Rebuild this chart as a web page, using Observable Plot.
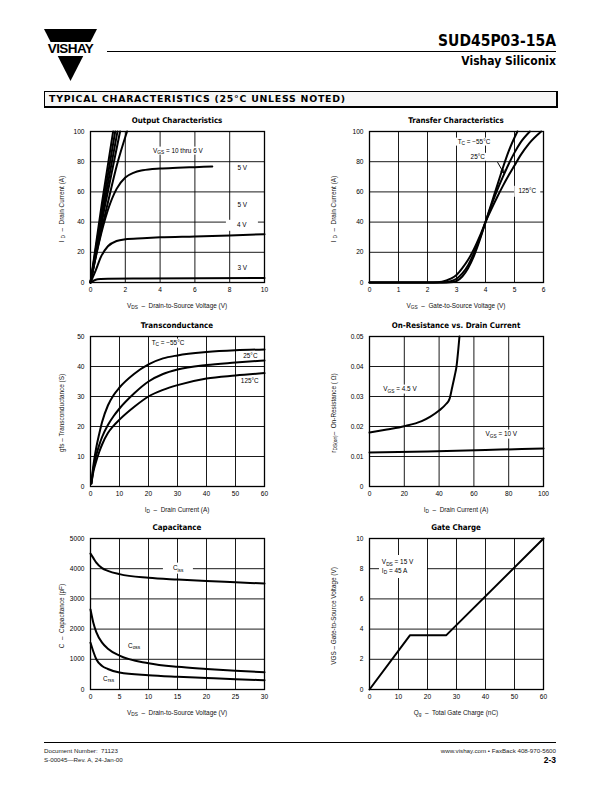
<!DOCTYPE html>
<html><head><meta charset="utf-8">
<script src="https://cdn.jsdelivr.net/npm/d3@7"></script>
<script src="https://cdn.jsdelivr.net/npm/@observablehq/plot@0.6"></script>
<style>
body{margin:0;background:#fff;}
#page{position:relative;width:612px;height:792px;overflow:hidden;font-family:"Liberation Sans",Arial,sans-serif;color:#000;background:#fff;}
.abs{position:absolute;white-space:nowrap;line-height:1;}
.narrow{font-family:"Liberation Sans Narrow","DejaVu Sans Condensed","Liberation Sans",sans-serif;}
.ctitle{font-weight:bold;font-size:7.9px;transform:translate(-50%,-50%);}
.xlab{font-size:6.4px;transform:translate(-50%,-50%);color:#111;}
.ylab{font-size:6.4px;transform:translate(-50%,-50%) rotate(-90deg);color:#111;}
.ann{font-size:6.4px;background:#fff;transform:translate(-50%,-50%);padding:1px 2px;text-align:center;}
sub{font-size:0.75em;vertical-align:baseline;position:relative;top:0.3em;}
</style></head>
<body><div id="page"></div>
<script>
// ---------- data ----------
// Output characteristics: [VDS (V), ID (A)]
const outVgs10 = [[0,0],[0.65,52],[1.3,100]];
const outVgs9  = [[0,0],[0.7,51],[1.42,100]];
const outVgs8  = [[0,0],[0.75,50],[1.55,100]];
const outVgs7  = [[0,0],[0.8,49],[1.7,100]];
const outVgs6  = [[0,0],[0.5,28],[1,53],[1.5,77],[2.1,100]];
const outVgs5  = [[0,0],[0.5,27],[1,48],[1.5,62],[2,69.5],[2.5,72.8],[3,74.3],[4,75.5],[5,76],[6,76.4],[7,76.8]];
const outVgs4  = [[0,0],[0.3,8],[0.6,17],[1,24],[1.5,27.5],[2,28.6],[3,29.3],[4,29.9],[6,30.5],[8,31.2],[10,32]];
const outVgs3  = [[0,0],[0.3,1.8],[0.6,2.3],[1,2.5],[3,2.7],[10,3]];
const outXTicks = [0,2,4,6,8,10];
const outYTicks = [0,20,40,60,80,100];

// Transfer characteristics: [VGS (V), ID (A)]
const trM55 = [[0,0],[2.7,0],[2.9,0.3],[3.0,1],[3.2,4],[3.4,9.5],[3.6,17.5],[3.8,28],[4.0,40],[4.2,52],[4.4,64],[4.6,76],[4.8,87],[5.1,100]];
const tr25  = [[0,0],[2.5,0],[2.8,0.8],[3.0,2.5],[3.2,6],[3.4,11.5],[3.6,19.5],[3.8,29],[4.0,40],[4.2,51],[4.4,61],[4.6,70],[4.8,78.5],[5.0,86],[5.2,92.5],[5.53,100]];
const tr125 = [[0,0],[2.2,0],[2.5,0.5],[2.8,2.5],[3.0,5],[3.2,9.5],[3.4,15],[3.6,22],[3.8,30.5],[4.0,40],[4.2,48.5],[4.4,56.5],[4.6,64],[4.8,71],[5.0,77.5],[5.2,84],[5.5,92],[5.92,100]];
const trXTicks = [0,1,2,3,4,5,6];
const trYTicks = [0,20,40,60,80,100];
const trArrow = [{x1:4.42, y1:79.5, x2:4.63, y2:72.5}];

// Transconductance: [ID (A), gfs (S)]
const gfsM55 = [[0.3,1],[1,7],[2,13],[3,17.5],[4,21.5],[6,27],[8,30.5],[10,33],[15,37.5],[20,40.7],[25,42.7],[30,43.7],[40,44.8],[50,45.4],[60,45.7]];
const gfs25  = [[0.3,1],[1,6],[2,10.5],[3,13.8],[4,16.5],[6,20.5],[8,23.5],[10,26],[15,31],[20,35],[25,37.5],[30,39],[40,40.5],[50,41.3],[60,42]];
const gfs125 = [[0.3,1],[1,5],[2,8.5],[3,11.5],[4,14],[6,17.8],[8,20.3],[10,22.3],[15,26.5],[20,30],[25,32.2],[30,33.8],[40,36],[50,37],[60,37.8]];
const gfsXTicks = [0,10,20,30,40,50,60];
const gfsYTicks = [0,10,20,30,40,50];

// On-resistance: [ID (A), rDS(on) (ohm)]
const ron45 = [[0,0.018],[10,0.019],[20,0.0201],[30,0.0218],[35,0.0233],[40,0.0253],[44,0.0275],[46,0.0292],[47.5,0.033],[49,0.037],[50,0.040],[51,0.0455],[51.7,0.05]];
const ron10 = [[0,0.0113],[25,0.0116],[50,0.0119],[75,0.0123],[100,0.0127]];
const ronXTicks = [0,20,40,60,80,100];
const ronYTicks = [0,0.01,0.02,0.03,0.04,0.05];

// Capacitance: [VDS (V), C (pF)]
const capCiss = [[0,4500],[0.5,4350],[1,4200],[2,4020],[3,3930],[5,3820],[10,3700],[15,3640],[20,3590],[25,3550],[30,3510]];
const capCoss = [[0,2650],[0.5,2200],[1,1900],[2,1550],[3,1350],[5,1120],[10,870],[15,750],[20,680],[25,620],[30,570]];
const capCrss = [[0,1550],[0.5,1250],[1,1000],[2,780],[3,680],[5,560],[10,470],[15,420],[20,380],[25,340],[30,310]];
const capXTicks = [0,5,10,15,20,25,30];
const capYTicks = [0,1000,2000,3000,4000,5000];

// Gate charge: [Qg (nC), VGS (V)]
const gateCharge = [[0,0],[14,3.6],[26.5,3.6],[60,10]];
const gcXTicks = [0,10,20,30,40,50,60];
const gcYTicks = [0,2,4,6,8,10];

// ---------- layout helpers ----------
const page = document.getElementById("page");
function place(html, cls, left, top, extra) {
  const d = document.createElement("div");
  d.className = "abs " + cls;
  d.innerHTML = html;
  d.style.left = left + "px"; d.style.top = top + "px";
  if (extra) Object.assign(d.style, extra);
  page.appendChild(d);
  return d;
}

function makeChart(cfg) {
  const left = cfg.col === 0 ? 0 : 306;
  const ml = cfg.col === 0 ? 90 : 63;
  const mr = cfg.col === 0 ? 42 : 69;
  const p = Plot.plot({
    width: 306, height: cfg.plotH + 30,
    marginLeft: ml, marginRight: mr, marginTop: 10, marginBottom: 20,
    style: {fontFamily: '"Liberation Sans", Arial, sans-serif', fontSize: "6.6px", color: "#000", background: "transparent", overflow: "visible"},
    x: {domain: cfg.xd, ticks: cfg.xt, tickSize: 0, tickPadding: 5, label: null, tickFormat: cfg.xf || (d => String(d))},
    y: {domain: cfg.yd, ticks: cfg.yt, tickSize: 0, tickPadding: 6, label: null, tickFormat: cfg.yf || (d => String(d))},
    marks: [
      Plot.gridX(cfg.xt, {stroke: "#000", strokeOpacity: 1, strokeWidth: 0.9}),
      Plot.gridY(cfg.yt, {stroke: "#000", strokeOpacity: 1, strokeWidth: 0.9}),
      Plot.frame({stroke: "#000", strokeWidth: 1.3}),
      ...cfg.series.map(s => Plot.line(s, {x: d => d[0], y: d => d[1], stroke: "#000", strokeWidth: 2, curve: cfg.curve || "monotone-x"})),
      ...(cfg.extra || [])
    ]
  });
  const holder = document.createElement("div");
  holder.className = "abs";
  holder.style.left = left + "px"; holder.style.top = (cfg.top - 10) + "px";
  holder.appendChild(p);
  page.appendChild(holder);
  const xs = p.scale("x"), ys = p.scale("y");
  const X = v => left + xs.apply(v), Y = v => cfg.top - 10 + ys.apply(v);
  const cx = left + ml + 87;
  place(cfg.title, "ctitle narrow", cx, cfg.top - 10);
  place(cfg.xlabel, "xlab", cx, cfg.top + cfg.plotH + 24);
  place(cfg.ylabel, "ylab", cfg.col === 0 ? 62 : 334, cfg.top + cfg.plotH / 2 + 2);
  for (const a of cfg.notes || []) {
    const st = {};
    let x = X(a.x);
    if (a.x1 != null) { st.width = (X(a.x2) - X(a.x1)) + "px"; st.padding = (a.py || 1) + "px 0"; x = (X(a.x1) + X(a.x2)) / 2; }
    if (a.clear) { st.background = "transparent"; }
    place(a.html, "ann", x, Y(a.y), st);
  }
  return {p, X, Y};
}

// ---------- header ----------
place("", "", 44, 29, {width: "53px", height: "52px", background: "#000", clipPath: "polygon(0 0,100% 0,50% 100%)"});
place("VISHAY", "", 41, 42, {width: "59px", height: "14px", background: "#fff", fontWeight: "bold", fontSize: "13.5px", textAlign: "center", letterSpacing: "-0.6px", lineHeight: "14px"});
place("", "", 107, 51, {width: "449px", height: "1px", background: "#000"});
place("SUD45P03-15A", "narrow", 0, 34, {width: "556px", textAlign: "right", fontWeight: "bold", fontSize: "15.5px"});
place("Vishay Siliconix", "narrow", 0, 55, {width: "556px", textAlign: "right", fontWeight: "bold", fontSize: "12px"});
place("TYPICAL CHARACTERISTICS (25&deg;C UNLESS NOTED)", "", 44, 91, {width: "507px", height: "12px", border: "1px solid #000", borderRightWidth: "2px", borderBottomWidth: "2px", background: "#f6f6f6", fontWeight: "900", fontSize: "9.4px", padding: "2px 0 0 4px", boxSizing: "content-box", fontFamily: '"DejaVu Sans", "Liberation Sans", sans-serif', letterSpacing: "0.75px"});

// ---------- charts ----------
makeChart({col: 0, top: 131, plotH: 151, xd: [0, 10], yd: [0, 100], xt: outXTicks, yt: outYTicks,
  series: [outVgs10, outVgs9, outVgs8, outVgs7, outVgs6, outVgs5, outVgs4, outVgs3],
  title: "Output Characteristics",
  xlabel: "V<sub>DS</sub> &nbsp;&ndash;&nbsp; Drain-to-Source Voltage (V)",
  ylabel: "I <sub>D</sub> &nbsp;&ndash;&nbsp; Drain Current (A)",
  notes: [
    {html: "V<sub>GS</sub> = 10 thru 6 V", x: 5.05, y: 87},
    {html: "5 V", x: 8.75, y: 75.5},
    {html: "5 V", x: 8.75, y: 51},
    {html: "4 V", x: 8.75, y: 37.5, x1: 7.8, x2: 9.65, py: 2},
    {html: "3 V", x: 8.75, y: 9.5}
  ]});

makeChart({col: 1, top: 131, plotH: 151, xd: [0, 6], yd: [0, 100], xt: trXTicks, yt: trYTicks,
  series: [trM55, tr25, tr125],
  extra: [Plot.arrow(trArrow, {x1: "x1", y1: "y1", x2: "x2", y2: "y2", stroke: "#000", strokeWidth: 1, headLength: 5})],
  title: "Transfer Characteristics",
  xlabel: "V<sub>GS</sub> &nbsp;&ndash;&nbsp; Gate-to-Source Voltage (V)",
  ylabel: "I <sub>D</sub> &nbsp;&ndash;&nbsp; Drain Current (A)",
  notes: [
    {html: "T<sub>C</sub> = &minus;55&deg;C", x: 3.62, y: 93},
    {html: "25&deg;C", x: 3.75, y: 83},
    {html: "125&deg;C", x: 5.45, y: 60, x1: 5.02, x2: 5.9, py: 2}
  ]});

makeChart({col: 0, top: 336, plotH: 150, xd: [0, 60], yd: [0, 50], xt: gfsXTicks, yt: gfsYTicks,
  series: [gfsM55, gfs25, gfs125],
  title: "Transconductance",
  xlabel: "I<sub>D</sub> &nbsp;&ndash;&nbsp; Drain Current (A)",
  ylabel: "gfs &ndash; Transconductance (S)",
  notes: [
    {html: "T<sub>C</sub> = &minus;55&deg;C", x: 26.9, y: 47.7},
    {html: "25&deg;C", x: 55.3, y: 43.4, clear: true},
    {html: "125&deg;C", x: 55.1, y: 35}
  ]});

makeChart({col: 1, top: 336, plotH: 150, xd: [0, 100], yd: [0, 0.05], xt: ronXTicks, yt: ronYTicks,
  yf: d => d === 0 ? "0" : d.toFixed(2),
  series: [ron45, ron10],
  title: "On-Resistance vs. Drain Current",
  xlabel: "I<sub>D</sub> &nbsp;&ndash;&nbsp; Drain Current (A)",
  ylabel: "r<sub>DS(on)</sub>&ndash; &nbsp;On-Resistance ( &Omega;)",
  notes: [
    {html: "V<sub>GS</sub> = 4.5 V", x: 17.8, y: 0.0322},
    {html: "V<sub>GS</sub> = 10 V", x: 76, y: 0.0173}
  ]});

makeChart({col: 0, top: 538, plotH: 151, xd: [0, 30], yd: [0, 5000], xt: capXTicks, yt: capYTicks,
  series: [capCiss, capCoss, capCrss],
  title: "Capacitance",
  xlabel: "V<sub>DS</sub> &nbsp;&ndash;&nbsp; Drain-to-Source Voltage (V)",
  ylabel: "C &nbsp;&ndash;&nbsp; Capacitance (pF)",
  notes: [
    {html: "C<sub>iss</sub>", x: 15.2, y: 4000, x1: 12.6, x2: 17.8, py: 2},
    {html: "C<sub>oss</sub>", x: 7.6, y: 1430},
    {html: "C<sub>rss</sub>", x: 3.2, y: 330}
  ]});

const gc = makeChart({col: 1, top: 538, plotH: 151, xd: [0, 60], yd: [0, 10], xt: gcXTicks, yt: gcYTicks,
  series: [gateCharge], curve: "linear",
  title: "Gate Charge",
  xlabel: "Q<sub>g</sub> &nbsp;&ndash;&nbsp; Total Gate Charge (nC)",
  ylabel: "VGS &ndash; Gate-to-Source Voltage (V)",
  notes: []});
// gate-charge condition box, sized through the chart's scales
place("V<sub>DS</sub> = 15 V<br>I<sub>D</sub> = 45 A", "", gc.X(3.4), gc.Y(8.85), {
  width: (gc.X(19.9) - gc.X(3.4) - 3) + "px", height: (gc.Y(7.35) - gc.Y(8.85) - 3) + "px",
  background: "#fff", fontSize: "6.4px", padding: "3px 0 0 3px", lineHeight: "7.6px"});

// ---------- footer ----------
place("", "", 44, 742, {width: "512px", height: "1px", background: "#000"});
place("Document Number: &nbsp;71123", "", 44, 748, {fontSize: "6.2px", color: "#222"});
place("S-00045&mdash;Rev. A, 24-Jan-00", "", 44, 757, {fontSize: "6.2px", color: "#222"});
place("www.vishay.com &bull; FaxBack 408-970-5600", "", 0, 748, {width: "556px", textAlign: "right", fontSize: "6.2px", color: "#222"});
place("2-3", "", 0, 756, {width: "556px", textAlign: "right", fontSize: "8.5px", fontWeight: "bold"});
</script>
</body></html>
